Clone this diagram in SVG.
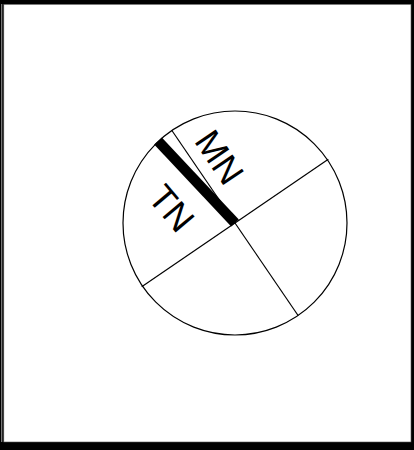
<svg xmlns="http://www.w3.org/2000/svg" width="414" height="450" viewBox="0 0 414 450">
<style>
.thin{stroke:#000;stroke-width:1.2;fill:none}
.lbl{font-family:"Liberation Sans",Arial,sans-serif;font-size:36px;fill:#000}
</style>
<g id="frame">
<rect x="0" y="0" width="414" height="450" fill="#000"/>
<rect x="1" y="4" width="1.3" height="438" fill="#777"/>
<rect x="3.8" y="4.3" width="407.2" height="437.7" fill="#fff" stroke="#555" stroke-width="0.6"/>
</g>
<g id="compass">
<circle cx="235" cy="223" r="112" class="thin"/>
</g>
<g id="connectors">
<line x1="141.7" y1="286.7" x2="328.3" y2="159.3" class="thin"/>
<line x1="171.9" y1="130.5" x2="298.1" y2="315.5" class="thin"/>
<line x1="158" y1="141" x2="235" y2="223" stroke="#000" stroke-width="10.5" stroke-linecap="butt"/>
</g>
<g id="MN">
<text class="lbl" transform="translate(220,157) rotate(56)" text-anchor="middle" dy="13">MN</text>
</g>
<g id="TN">
<text class="lbl" transform="translate(172,208) rotate(50)" text-anchor="middle" dy="13">TN</text>
</g>
</svg>
